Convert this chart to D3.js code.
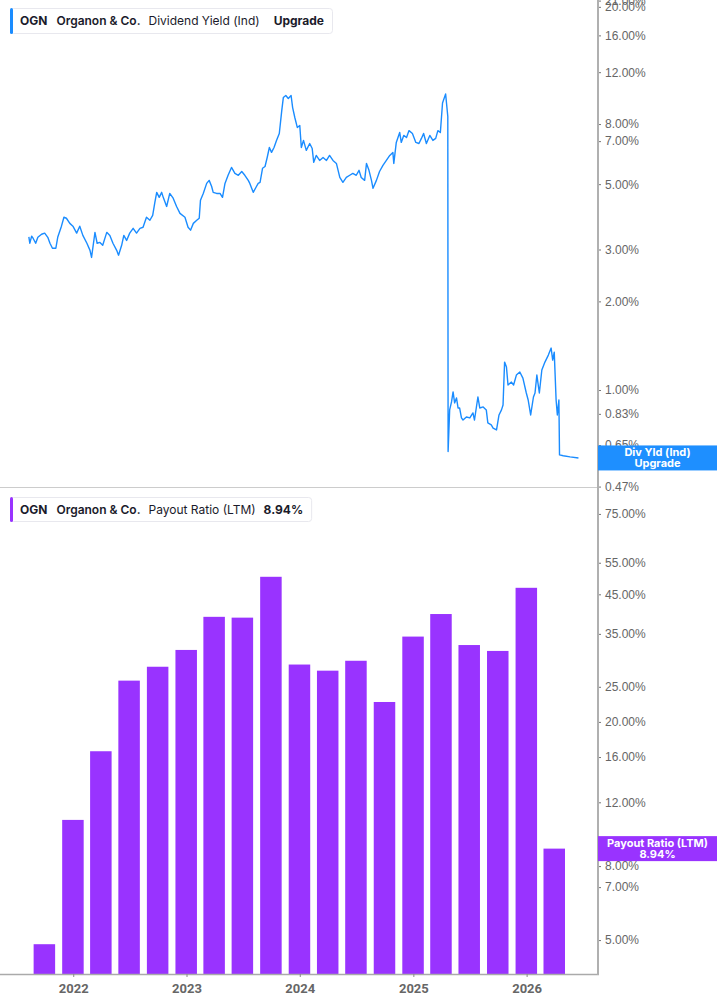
<!DOCTYPE html>
<html>
<head>
<meta charset="utf-8">
<title>OGN dividend yield and payout ratio</title>
<style>
  body { margin: 0; background: #fff; }
  svg { display: block; font-family: Inter, "Noto Sans", sans-serif; }
  .tick-label { font: 12px "Liberation Sans", Arial, sans-serif; fill: #666; }
  .year-label { font: bold 13px Roboto, "Liberation Sans", sans-serif; fill: #666; }
</style>
</head>
<body>
<svg width="717" height="1005"></svg>
<script src="https://d3js.org/d3.v7.min.js"></script>
<script>
// dividend yield (ind), %
var yieldDates = [
  "2021-08-11","2021-08-14","2021-08-20","2021-08-25","2021-09-02","2021-09-09","2021-09-21","2021-10-01",
  "2021-10-11","2021-10-18","2021-10-26","2021-11-06","2021-11-12","2021-11-24","2021-12-02","2021-12-10",
  "2021-12-21","2021-12-31","2022-01-12","2022-01-22","2022-02-01","2022-02-14","2022-02-24","2022-03-01",
  "2022-03-12","2022-03-19","2022-03-28","2022-04-06","2022-04-19","2022-04-29","2022-05-09","2022-05-21",
  "2022-05-27","2022-06-06","2022-06-13","2022-06-22","2022-07-02","2022-07-13","2022-07-24","2022-08-04",
  "2022-08-14","2022-08-25","2022-09-05","2022-09-14","2022-09-21","2022-09-27","2022-10-05","2022-10-13",
  "2022-10-18","2022-10-29","2022-11-08","2022-11-19","2022-11-30","2022-12-11","2022-12-27","2023-01-06",
  "2023-01-14","2023-01-23","2023-02-03","2023-02-11","2023-02-15","2023-02-24","2023-03-07","2023-03-15",
  "2023-03-23","2023-03-28","2023-04-08","2023-04-19","2023-04-27","2023-05-05","2023-05-15","2023-05-26",
  "2023-06-06","2023-06-17","2023-06-28","2023-07-08","2023-07-19","2023-07-24","2023-08-04","2023-08-13",
  "2023-08-20","2023-08-26","2023-09-03","2023-09-11","2023-09-18","2023-09-25","2023-10-02","2023-10-10",
  "2023-10-18","2023-10-27","2023-11-04","2023-11-09","2023-11-17","2023-11-25","2023-12-04","2023-12-09",
  "2023-12-16","2023-12-24","2024-01-01","2024-01-06","2024-01-13","2024-01-22","2024-02-02","2024-02-10",
  "2024-02-15","2024-02-23","2024-03-05","2024-03-16","2024-03-27","2024-04-06","2024-04-17","2024-04-28",
  "2024-05-09","2024-05-19","2024-05-30","2024-06-10","2024-06-20","2024-07-01","2024-07-10","2024-07-17",
  "2024-07-28","2024-08-03","2024-08-11","2024-08-19","2024-08-24","2024-09-04","2024-09-14","2024-09-25",
  "2024-10-06","2024-10-17","2024-10-27","2024-10-30","2024-11-07","2024-11-18","2024-11-23","2024-12-01",
  "2024-12-10","2024-12-18","2024-12-29","2025-01-09","2025-01-19","2025-01-27","2025-02-03","2025-02-12",
  "2025-02-23","2025-03-05","2025-03-14","2025-03-21","2025-03-29","2025-04-05","2025-04-15","2025-04-22",
  "2025-04-23","2025-04-28","2025-05-04","2025-05-09","2025-05-14","2025-05-20","2025-05-25","2025-05-30",
  "2025-06-05","2025-06-10","2025-06-21","2025-07-02","2025-07-12","2025-07-17","2025-07-28","2025-08-03",
  "2025-08-14","2025-08-24","2025-08-29","2025-09-09","2025-09-15","2025-09-26","2025-10-04","2025-10-12",
  "2025-10-17","2025-10-22","2025-10-28","2025-11-02","2025-11-13","2025-11-20","2025-11-29","2025-12-10",
  "2025-12-20","2025-12-31","2026-01-06","2026-01-14","2026-01-23","2026-01-28","2026-02-03","2026-02-11",
  "2026-02-19","2026-03-01","2026-03-12","2026-03-21","2026-03-26","2026-03-31","2026-04-06","2026-04-10",
  "2026-04-15","2026-04-17","2026-04-29","2026-05-21","2026-06-17"
];
var yieldValues = [
  3.31,3.15,3.33,3.27,3.15,3.30,3.38,3.41,
  3.30,3.15,3.03,3.03,3.30,3.60,3.86,3.83,
  3.68,3.60,3.41,3.60,3.35,3.15,2.98,2.82,
  3.43,3.15,3.17,3.10,3.43,3.35,3.15,2.98,
  2.87,3.10,3.35,3.22,3.41,3.54,3.41,3.54,
  3.57,3.86,3.77,3.92,4.34,4.69,4.51,4.69,
  4.51,4.20,4.65,4.48,4.20,3.98,3.86,3.57,
  3.49,3.68,3.77,3.83,4.41,4.65,5.03,5.15,
  4.91,4.69,4.65,4.65,4.51,5.03,5.36,5.70,
  5.44,5.36,5.52,5.36,5.15,5.03,4.69,4.88,
  5.03,5.07,5.66,5.74,6.16,6.66,6.41,6.66,
  7.04,7.43,8.90,9.84,10.0,9.77,10.0,9.10,
  8.42,7.79,7.91,6.66,7.04,6.51,6.87,6.61,
  5.93,6.26,6.02,6.16,6.02,6.26,6.02,5.88,
  5.27,5.07,5.27,5.36,5.44,5.36,5.57,5.27,
  5.15,5.88,5.57,5.15,4.84,5.15,5.52,5.79,
  6.02,6.26,6.41,5.88,6.93,7.49,6.93,7.32,
  7.20,7.60,7.43,6.93,6.87,7.15,7.43,6.87,
  7.32,7.04,7.15,7.60,7.49,9.43,10.12,8.49,
  0.618,0.856,0.911,0.985,0.904,0.94,0.869,0.87,
  0.804,0.791,0.810,0.804,0.836,0.791,0.947,0.869,
  0.876,0.856,0.773,0.761,0.743,0.732,0.823,0.856,
  0.890,1.244,1.197,1.04,1.064,1.04,1.124,1.151,
  1.098,0.977,0.925,0.823,0.947,0.977,1.124,0.977,
  1.169,1.244,1.314,1.388,1.264,1.345,0.925,0.823,
  0.925,0.602,0.598,0.593,0.588
];

// payout ratio (LTM), %, quarterly
var payoutDates = [
  "2021-09-30","2021-12-31","2022-03-31","2022-06-30","2022-09-30","2022-12-31","2023-03-31",
  "2023-06-30","2023-09-30","2023-12-31","2024-03-31","2024-06-30","2024-09-30","2024-12-31",
  "2025-03-31","2025-06-30","2025-09-30","2025-12-31","2026-03-31"
];
var payoutValues = [4.87, 10.73, 16.6, 26.0, 28.4, 31.6, 39.0, 38.8, 50.3, 28.8,
  27.7, 29.5, 22.7, 34.4, 39.7, 32.6, 31.4, 46.9, 8.94];

var yieldTicks = [21, 20, 16, 12, 8, 7, 5, 3, 2, 1, 0.83, 0.65, 0.47];
var payoutTicks = [75, 55, 45, 35, 25, 20, 16, 12, 8, 7, 5];
var yearTicks = ["2022-01-01", "2023-01-01", "2024-01-01", "2025-01-01", "2026-01-01"];

var parse = d3.timeParse("%Y-%m-%d");
var blue = "#1a8cff", purple = "#9933ff";

var svg = d3.select("svg");
var plotRight = 598;

var x = d3.scaleTime()
    .domain([parse("2021-05-10"), parse("2026-08-19")])
    .range([0, plotRight]);

var yTop = d3.scaleLog().domain([0.4685, 21.1]).range([487, 0]);
var yBot = d3.scaleLog().domain([4.03, 89]).range([974, 487]);

// ---- top panel: line
var lineData = yieldDates.map(function(d, i) { return { date: parse(d), v: yieldValues[i] }; });
svg.append("path")
    .datum(lineData)
    .attr("fill", "none")
    .attr("stroke", blue)
    .attr("stroke-width", 1.4)
    .attr("stroke-linejoin", "round")
    .attr("d", d3.line().x(function(d) { return x(d.date); }).y(function(d) { return yTop(d.v); }));

// ---- bottom panel: bars
var barW = 21.5;
svg.selectAll("rect.bar")
    .data(payoutDates.map(function(d, i) { return { date: parse(d), v: payoutValues[i] }; }))
  .enter().append("rect")
    .attr("class", "bar")
    .attr("x", function(d) { return x(d.date) - barW / 2; })
    .attr("width", barW)
    .attr("y", function(d) { return yBot(d.v); })
    .attr("height", function(d) { return yBot.range()[0] - yBot(d.v); })
    .attr("fill", purple);

// separators and axis lines
svg.append("line").attr("x1", 0).attr("x2", plotRight).attr("y1", 487.5).attr("y2", 487.5)
    .attr("stroke", "#ccc").attr("stroke-width", 1);
svg.append("line").attr("x1", 0).attr("x2", plotRight + 1).attr("y1", 974.5).attr("y2", 974.5)
    .attr("stroke", "#aaa").attr("stroke-width", 1.5);

// right axes
var axTop = svg.append("g").attr("transform", "translate(" + plotRight + ",0)")
    .call(d3.axisRight(yTop).tickValues(yieldTicks).tickSize(3).tickPadding(4)
      .tickFormat(function(d) { return d.toFixed(2) + "%"; }));
var axBot = svg.append("g").attr("transform", "translate(" + plotRight + ",0)")
    .call(d3.axisRight(yBot).tickValues(payoutTicks).tickSize(3).tickPadding(4)
      .tickFormat(function(d) { return d.toFixed(2) + "%"; }));
[axTop, axBot].forEach(function(g) {
  g.select(".domain").remove();
  g.selectAll(".tick line").attr("stroke", "#777");
  g.selectAll(".tick text").attr("class", "tick-label").attr("fill", null).attr("font-size", null).attr("font-family", null);
});
svg.append("line").attr("x1", plotRight).attr("x2", plotRight).attr("y1", 0).attr("y2", 975)
    .attr("stroke", "#b0b0b0").attr("stroke-width", 2);

// bottom time axis
var axX = svg.append("g").attr("transform", "translate(0,974)")
    .call(d3.axisBottom(x).tickValues(yearTicks.map(parse)).tickSize(3).tickPadding(7)
      .tickFormat(d3.timeFormat("%Y")));
axX.select(".domain").remove();
axX.selectAll(".tick line").attr("stroke", "#888");
axX.selectAll(".tick text").attr("class", "year-label").attr("fill", null).attr("font-size", null).attr("font-family", null);

// legends
function legend(y, h, color, parts) {
  var g = svg.append("g").attr("transform", "translate(10," + y + ")");
  var box = g.append("rect").attr("x", 0.5).attr("y", 0.5).attr("height", h)
      .attr("rx", 3).attr("fill", "#fff").attr("stroke", "#e8e8ee");
  var t = g.append("text").attr("x", 10).attr("y", h / 2 + 4.5).attr("font-size", 12).attr("fill", "#1b1b2b");
  parts.forEach(function(p) {
    t.append("tspan").attr("dx", p.gap).attr("font-weight", p.w).text(p.t);
  });
  var w = t.node().getComputedTextLength() + 10 + parts.reduce(function(s, p) { return s + p.gap; }, 0) + 8;
  box.attr("width", w);
  g.append("rect").attr("x", 0).attr("y", 0).attr("width", 3).attr("height", h + 1).attr("rx", 1.5).attr("fill", color);
}
legend(8, 25, blue, [
  { t: "OGN", w: 700, gap: 0 },
  { t: "Organon & Co.", w: 600, gap: 9 },
  { t: "Dividend Yield (Ind)", w: 400, gap: 8 },
  { t: "Upgrade", w: 700, gap: 14 }
]);
legend(497, 24, purple, [
  { t: "OGN", w: 700, gap: 0 },
  { t: "Organon & Co.", w: 600, gap: 9 },
  { t: "Payout Ratio (LTM)", w: 400, gap: 8 },
  { t: "8.94%", w: 700, gap: 8 }
]);

// last-value flags on the right axis
function flag(yc, color, lines) {
  var h = 25;
  svg.append("rect").attr("x", plotRight).attr("y", yc - h / 2).attr("width", 717 - plotRight).attr("height", h)
      .attr("fill", color);
  lines.forEach(function(l, i) {
    svg.append("text").attr("x", (plotRight + 717) / 2).attr("y", yc - 2 + i * 11)
        .attr("text-anchor", "middle").attr("font-size", 11).attr("font-weight", 700)
        .attr("font-family", "Inter, sans-serif").attr("fill", "#fff").text(l);
  });
}
flag(yTop(yieldValues[yieldValues.length - 1]), "#1e8fff", ["Div Yld (Ind)", "Upgrade"]);
flag(yBot(payoutValues[payoutValues.length - 1]), purple, ["Payout Ratio (LTM)", payoutValues[payoutValues.length - 1].toFixed(2) + "%"]);
</script>
</body>
</html>
